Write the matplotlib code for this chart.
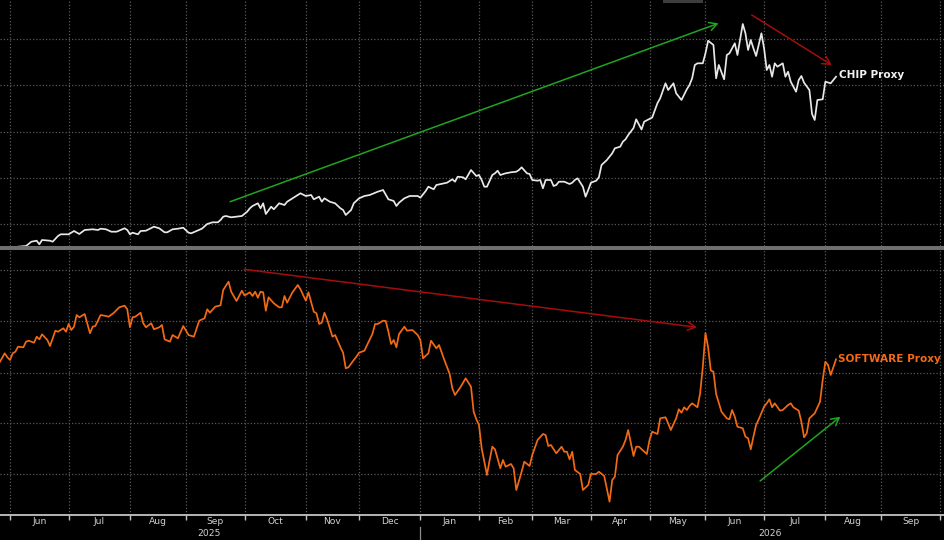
import numpy as np
import matplotlib
matplotlib.use("Agg")
import matplotlib.pyplot as plt
from matplotlib.patches import Rectangle
from matplotlib.lines import Line2D
from matplotlib.transforms import blended_transform_factory

# ---------------- data ----------------
START = "2025-06-02"   # trading-day offsets below count weekdays from this date

chip_day = [2, 5, 7, 9, 10, 11, 14, 15, 17, 18,
            21, 23, 25, 27, 30, 32, 33, 35, 37, 39,
            42, 43, 44, 45, 47, 48, 50, 53, 55, 57,
            58, 60, 62, 64, 66, 67, 69, 71, 73, 75,
            77, 78, 79, 80, 82, 84, 86, 88, 89, 90,
            92, 93, 94, 95, 97, 98, 100, 102, 103, 105,
            107, 108, 110, 112, 113, 115, 116, 117, 119, 121,
            123, 124, 125, 127, 128, 130, 132, 134, 137, 139,
            141, 143, 144, 145, 147, 149, 152, 153, 155, 156,
            158, 159, 162, 163, 165, 166, 167, 169, 170, 172,
            174, 175, 176, 177, 178, 180, 181, 182, 183, 185,
            187, 189, 190, 191, 193, 194, 195, 197, 198, 199,
            200, 202, 203, 204, 205, 207, 209, 210, 211, 212,
            214, 215, 216, 217, 219, 220, 221, 223, 225, 226,
            228, 229, 230, 231, 233, 234, 236, 237, 240, 242,
            243, 245, 246, 248, 249, 251, 253, 254, 255, 256,
            257, 259, 260, 261, 263, 264, 265, 267, 268, 269,
            271, 272, 273, 274, 275, 276, 277, 278, 279, 281,
            282, 283, 284, 285, 286, 287, 289, 290, 291, 292,
            294, 295, 296, 297, 299, 300, 301, 302, 304, 305,
            307, 308, 309]
chip_val = [53.3, 54.0, 58.3, 59.3, 55.7, 60.0, 59.3, 58.3, 64.0, 65.7,
            65.7, 69.0, 66.0, 70.0, 70.7, 70.0, 71.3, 70.7, 68.3, 68.3,
            71.7, 70.0, 65.7, 67.3, 65.7, 69.0, 69.3, 73.3, 71.7, 67.7,
            67.7, 70.7, 71.3, 72.3, 67.3, 66.7, 69.0, 71.3, 76.0, 77.7,
            77.7, 80.0, 83.3, 84.0, 82.7, 83.3, 84.0, 88.3, 91.7, 94.0,
            96.7, 91.7, 96.7, 86.0, 93.3, 90.7, 96.7, 95.0, 98.3, 101.7,
            105.0, 106.7, 104.0, 105.0, 100.7, 103.3, 98.3, 101.7, 98.3, 96.7,
            91.7, 90.0, 85.0, 90.0, 96.7, 101.7, 104.0, 105.0, 108.3, 110.0,
            100.7, 99.0, 94.0, 97.3, 101.7, 104.0, 104.0, 102.3, 109.0, 113.3,
            110.7, 115.0, 116.7, 117.3, 120.7, 118.3, 123.3, 122.7, 120.7, 130.0,
            124.0, 125.0, 120.0, 113.3, 113.3, 125.0, 126.7, 129.3, 125.0, 126.7,
            127.7, 128.3, 130.0, 132.7, 126.7, 126.0, 120.0, 119.3, 120.0, 111.7,
            120.0, 120.0, 114.0, 115.0, 118.3, 118.3, 116.0, 117.3, 120.0, 121.7,
            113.3, 103.3, 110.0, 117.3, 119.3, 122.7, 135.0, 140.0, 146.7, 151.7,
            153.3, 158.3, 160.7, 165.0, 172.0, 180.7, 170.5, 178.3, 182.5, 197.0,
            201.7, 216.7, 210.0, 216.7, 206.7, 200.0, 210.7, 215.0, 221.7, 235.0,
            236.7, 236.7, 246.7, 259.3, 255.0, 221.7, 235.0, 220.7, 245.0, 246.7,
            256.7, 245.0, 260.7, 276.0, 266.7, 250.0, 260.0, 251.7, 244.0, 266.7,
            251.7, 230.0, 235.0, 223.3, 236.7, 233.3, 236.7, 223.3, 228.3, 218.3,
            208.3, 220.0, 224.0, 217.3, 210.0, 186.0, 180.0, 200.0, 200.7, 218.3,
            216.7, 220.0, 223.3]

soft_day = [-5, -3, -2, -1, 0, 1, 2, 4, 5, 6,
            8, 9, 10, 11, 13, 14, 16, 17, 19, 20,
            21, 22, 23, 24, 25, 27, 29, 30, 31, 33,
            35, 36, 38, 40, 42, 43, 44, 45, 46, 48,
            49, 50, 52, 53, 55, 56, 57, 59, 60, 62,
            64, 66, 68, 70, 72, 73, 74, 76, 78, 79,
            81, 82, 84, 86, 87, 89, 90, 91, 92, 93,
            94, 95, 96, 98, 100, 101, 102, 103, 105, 107,
            108, 110, 111, 113, 114, 115, 116, 117, 118, 120,
            121, 123, 124, 125, 126, 128, 129, 130, 132, 133,
            135, 136, 137, 139, 140, 141, 142, 143, 144, 145,
            147, 148, 150, 152, 153, 154, 156, 157, 159, 160,
            162, 164, 165, 166, 168, 170, 172, 173, 174, 175,
            176, 178, 179, 180, 181, 183, 184, 185, 187, 188,
            189, 191, 192, 194, 195, 197, 199, 200, 201, 202,
            204, 206, 207, 208, 209, 210, 211, 213, 214, 216,
            217, 219, 220, 222, 224, 225, 226, 227, 229, 230,
            231, 233, 234, 235, 238, 239, 240, 242, 243, 245,
            246, 247, 249, 250, 251, 252, 253, 254, 255, 257,
            258, 259, 260, 261, 262, 263, 264, 266, 268, 269,
            270, 271, 272, 274, 275, 276, 277, 278, 279, 280,
            282, 283, 284, 285, 286, 288, 289, 291, 292, 293,
            295, 296, 297, 298, 299, 301, 303, 304, 305, 306,
            307, 309]
soft_val = [237.3, 246.7, 242.7, 240.0, 246.7, 248.3, 253.3, 252.7, 258.3, 259.3,
            257.3, 263.3, 260.7, 265.7, 260.0, 254.0, 269.3, 268.3, 271.7, 268.3,
            276.0, 270.0, 273.3, 285.0, 282.7, 286.0, 266.7, 273.3, 274.0, 285.0,
            284.0, 283.3, 287.3, 292.7, 294.3, 290.7, 272.7, 282.7, 283.3, 287.3,
            276.7, 272.7, 276.7, 270.7, 272.7, 275.0, 260.7, 258.3, 265.0, 261.7,
            274.0, 265.0, 263.3, 279.3, 281.7, 290.7, 287.3, 293.3, 294.7, 310.0,
            318.3, 308.3, 299.0, 309.3, 304.5, 307.7, 304.0, 308.3, 302.3, 308.3,
            307.7, 289.3, 302.7, 296.7, 292.7, 292.7, 304.0, 297.3, 307.7, 315.0,
            310.7, 299.3, 307.7, 288.3, 286.7, 276.0, 277.3, 287.3, 280.7, 263.3,
            265.0, 252.7, 247.3, 231.7, 232.7, 240.0, 243.3, 247.3, 249.3, 255.0,
            266.0, 276.0, 276.0, 279.3, 279.0, 268.3, 256.0, 260.0, 252.7, 266.0,
            273.3, 269.3, 270.0, 265.0, 260.0, 241.7, 246.7, 259.3, 251.7, 255.0,
            240.0, 226.0, 211.7, 205.0, 212.7, 221.7, 213.3, 188.3, 180.7, 175.0,
            151.7, 125.0, 140.0, 153.3, 150.7, 131.7, 140.0, 133.3, 136.0, 131.7,
            110.0, 128.3, 138.3, 134.0, 145.0, 160.0, 166.0, 165.0, 154.0, 155.0,
            146.7, 153.3, 148.3, 148.3, 140.7, 148.3, 130.0, 126.0, 110.0, 115.0,
            126.0, 126.0, 128.3, 124.0, 98.3, 120.0, 123.3, 145.0, 153.3, 160.0,
            170.0, 144.0, 153.3, 153.3, 146.0, 160.0, 168.3, 166.0, 181.7, 182.7,
            176.7, 170.0, 181.7, 190.7, 187.3, 192.7, 190.0, 194.0, 196.7, 192.7,
            206.7, 233.3, 267.0, 252.5, 229.5, 228.3, 206.0, 188.3, 181.7, 180.7,
            190.0, 183.3, 173.3, 171.7, 163.3, 161.7, 150.7, 163.3, 175.0, 180.7,
            193.3, 196.7, 200.7, 192.7, 196.7, 189.3, 190.0, 195.0, 196.7, 192.7,
            189.3, 178.3, 162.7, 166.7, 181.7, 186.7, 198.3, 220.0, 238.3, 235.0,
            225.0, 240.7]

month_starts = ["2025-06-01", "2025-07-01", "2025-08-01", "2025-09-01",
                "2025-10-01", "2025-11-01", "2025-12-01", "2026-01-01",
                "2026-02-01", "2026-03-01", "2026-04-01", "2026-05-01",
                "2026-06-01", "2026-07-01", "2026-08-01", "2026-09-01",
                "2026-10-01"]
month_labels = ["Jun", "Jul", "Aug", "Sep", "Oct", "Nov", "Dec", "Jan",
                "Feb", "Mar", "Apr", "May", "Jun", "Jul", "Aug", "Sep"]
year_labels = ["2025", "2026"]
chip_grid = [76, 122, 168, 215, 261]
soft_grid = [126, 177, 227, 279, 330]
chip_name = "CHIP Proxy"
soft_name = "SOFTWARE Proxy"

assert len(chip_day) == len(chip_val)
assert len(soft_day) == len(soft_val)

# ---------------- styling ----------------
BG = "black"
WHITE_LINE = "#e8e8e8"
ORANGE = "#f26a15"
GREEN = "#1fa51f"
RED = "#a50d0d"
GRID = "#585858"
AXC = "#c4c4c4"
TXT = "#d2d2d2"
dots = (0, (1.0, 1.6))

W, H = 945.0, 540.0
fig = plt.figure(figsize=(9.45, 5.4), dpi=100, facecolor=BG)
ax1 = fig.add_axes([0, (H - 246) / H, 1, 246 / H])
ax2 = fig.add_axes([0, (H - 515) / H, 1, 265 / H])

xmin, xmax = -4.77, 349.9
bounds = np.busday_count(START, np.array(month_starts, dtype="datetime64[D]"))

for ax in (ax1, ax2):
    ax.set_facecolor(BG)
    for s in ax.spines.values():
        s.set_visible(False)
    ax.set_xlim(xmin, xmax)
    ax.set_yticks([])
    for b in bounds:
        ax.axvline(b, color=GRID, lw=0.9, ls=dots, zorder=0.5)

ax1.set_ylim(54, 300)
ax2.set_ylim(85, 350)
for g in chip_grid:
    ax1.axhline(g, color=GRID, lw=0.9, ls=dots, zorder=0.5)
for g in soft_grid:
    ax2.axhline(g, color=GRID, lw=0.9, ls=dots, zorder=0.5)

ax1.set_xticks([])
ax2.set_xticks(bounds)
ax2.tick_params(axis="x", direction="out", length=3.5, width=1.0,
                color=AXC, labelbottom=False)
ax2.spines["bottom"].set_visible(True)
ax2.spines["bottom"].set_color(AXC)
ax2.spines["bottom"].set_linewidth(1.3)

# series
ax1.plot(chip_day, chip_val, color=WHITE_LINE, lw=1.25, zorder=3,
         solid_joinstyle="round")
ax2.plot(soft_day, soft_val, color=ORANGE, lw=1.25, zorder=3,
         solid_joinstyle="round")

# series labels
ax1.text(chip_day[-1] + 1.0, chip_val[-1] + 1.5, chip_name, color="#f2f2f2",
         fontsize=7.6, fontweight="bold", ha="left", va="center",
         family="DejaVu Sans", zorder=4)
ax2.text(soft_day[-1] + 0.8, soft_val[-1] + 0.5, soft_name, color=ORANGE,
         fontsize=7.6, fontweight="bold", ha="left", va="center",
         family="DejaVu Sans", zorder=4)

# trend arrows
def arrow(ax, p0, p1, color):
    ax.annotate("", xy=p1, xytext=p0,
                arrowprops=dict(arrowstyle="->,head_length=0.55,head_width=0.3",
                                color=color, lw=1.1, shrinkA=0, shrinkB=0),
                zorder=4)

arrow(ax1, (81.6, 98.3), (264.9, 276.7), GREEN)
arrow(ax1, (277.4, 285.0), (307.4, 235.0), RED)
arrow(ax2, (86.9, 330.7), (256.8, 272.7), RED)
arrow(ax2, (280.5, 119.0), (310.6, 183.3), GREEN)

# panel divider and top marker
fig.add_artist(Rectangle((0, (H - 250) / H), 1, 4 / H, transform=fig.transFigure,
                         facecolor="#6f6f6f", edgecolor="none"))
fig.add_artist(Rectangle((663 / W, (H - 3) / H), 40 / W, 3 / H,
                         transform=fig.transFigure, facecolor="#3d3d3d",
                         edgecolor="none"))

# month and year labels
tr = blended_transform_factory(ax2.transData, fig.transFigure)
lab_font = ["Liberation Sans Narrow", "DejaVu Sans"]
for i, lab in enumerate(month_labels):
    xc = 0.5 * (bounds[i] + bounds[i + 1])
    fig.text(xc, (H - 522) / H, lab, transform=tr, color=TXT, fontsize=6.6,
             ha="center", va="center", family=lab_font)
jan = bounds[month_labels.index("Jan")]
fig.text(73.5, (H - 534) / H, year_labels[0], transform=tr, color=TXT,
         fontsize=6.6, ha="center", va="center", family=lab_font)
fig.text(284.3, (H - 534) / H, year_labels[1], transform=tr, color=TXT,
         fontsize=6.6, ha="center", va="center", family=lab_font)
fig.add_artist(Line2D([jan, jan], [(H - 527) / H, 0], transform=tr,
                      color="#8c8c8c", lw=0.9))

fig.savefig("out.png", dpi=100, facecolor=BG)
